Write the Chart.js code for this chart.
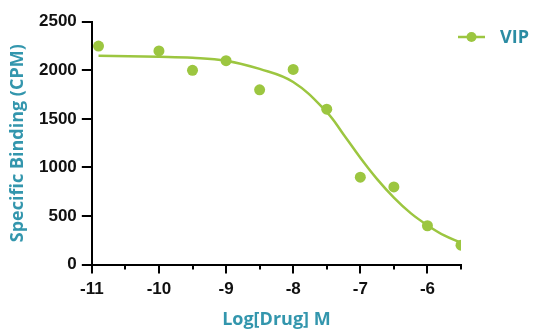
<!DOCTYPE html>
<html>
<head>
<meta charset="utf-8">
<script src="https://cdn.jsdelivr.net/npm/chart.js@4/dist/chart.umd.min.js"></script>
<style>
html,body{margin:0;padding:0;background:#fff;}
#wrap{width:533px;height:331px;position:relative;}
</style>
</head>
<body>
<div id="wrap"><canvas id="c" width="533" height="331"></canvas></div>
<script>
// Measured points
const seriesLabel = 'VIP';
const logDose = [-10.9, -10, -9.5, -9, -8.5, -8, -7.5, -7, -6.5, -6, -5.5];
const binding = [2250, 2200, 2000, 2100, 1800, 2010, 1600, 900, 800, 400, 200];
// Fitted curve
const curveX = [-10.9, -10, -9.5, -9, -8.5, -8, -7.5, -7.25, -7, -6.75, -6.5, -6.25, -6, -5.75, -5.5];
const curveY = [2150, 2140, 2130, 2100, 2015, 1880, 1570, 1340, 1100, 880, 690, 530, 405, 300, 225];
// Axis ticks
const xMajorTicks = [-11, -10, -9, -8, -7, -6];
const xMinorTicks = [-10.5, -9.5, -8.5, -7.5, -6.5, -5.5];
const yTicks = [0, 500, 1000, 1500, 2000, 2500];

const GREEN = '#9cc640';
const TEAL = '#3396ad';
const TEAL_DARK = '#2b8ca3';

const tickPlugin = {
  id: 'axisTicks',
  afterDraw(chart) {
    const ctx = chart.ctx;
    const xs = chart.scales.x;
    const ys = chart.scales.y;
    ctx.save();
    ctx.strokeStyle = '#000';
    ctx.lineWidth = 2;
    ctx.lineCap = 'butt';
    xMajorTicks.forEach(v => {
      const px = Math.round(xs.getPixelForValue(v));
      ctx.beginPath(); ctx.moveTo(px, xs.top); ctx.lineTo(px, xs.top + 9); ctx.stroke();
    });
    xMinorTicks.forEach(v => {
      const px = Math.round(xs.getPixelForValue(v));
      ctx.beginPath(); ctx.moveTo(px, xs.top); ctx.lineTo(px, xs.top + 5); ctx.stroke();
    });
    yTicks.forEach(v => {
      const py = Math.round(ys.getPixelForValue(v));
      ctx.beginPath(); ctx.moveTo(ys.right, py); ctx.lineTo(ys.right - 10, py); ctx.stroke();
    });
    ctx.restore();
  }
};

const legendPlugin = {
  id: 'customLegend',
  afterDraw(chart) {
    const ctx = chart.ctx;
    const ds = chart.data.datasets[0];
    ctx.save();
    ctx.strokeStyle = GREEN;
    ctx.lineWidth = 2.5;
    ctx.beginPath();
    ctx.moveTo(458, 37);
    ctx.lineTo(485, 37);
    ctx.stroke();
    ctx.fillStyle = GREEN;
    ctx.beginPath();
    ctx.arc(471.5, 37, 5, 0, Math.PI * 2);
    ctx.fill();
    ctx.fillStyle = TEAL_DARK;
    ctx.font = 'bold 18px "Open Sans"';
    ctx.textBaseline = 'middle';
    ctx.fillText(ds.label, 500, 38);
    ctx.restore();
  }
};

new Chart(document.getElementById('c'), {
  type: 'scatter',
  data: {
    datasets: [
      {
        label: seriesLabel,
        data: logDose.map((x, i) => ({x: x, y: binding[i]})),
        showLine: false,
        pointRadius: 5.5,
        pointHoverRadius: 5.5,
        backgroundColor: GREEN,
        borderColor: GREEN,
        borderWidth: 0
      },
      {
        label: 'fit',
        data: curveX.map((x, i) => ({x: x, y: curveY[i]})),
        showLine: true,
        pointRadius: 0,
        borderColor: GREEN,
        borderWidth: 2.5,
        tension: 0.4,
        fill: false
      }
    ]
  },
  options: {
    responsive: false,
    animation: false,
    layout: {padding: {left: 9, right: 72, top: 18, bottom: 2}},
    plugins: {legend: {display: false}, tooltip: {enabled: false}},
    scales: {
      x: {
        type: 'linear',
        min: -11,
        max: -5.5,
        afterBuildTicks: s => { s.ticks = xMajorTicks.map(v => ({value: v})); },
        border: {color: '#000', width: 2},
        grid: {display: false, drawTicks: false},
        ticks: {color: '#111', font: {family: 'Liberation Sans', weight: 'bold', size: 17}, padding: 15, maxRotation: 0, autoSkip: false, callback: v => String(v)},
        title: {display: true, text: 'Log[Drug] M', color: TEAL, font: {family: 'Open Sans', weight: 'bold', size: 18, lineHeight: 1}, padding: {top: -4, bottom: 0}}
      },
      y: {
        min: 0,
        max: 2500,
        afterBuildTicks: s => { s.ticks = yTicks.map(v => ({value: v})); },
        border: {color: '#000', width: 2},
        grid: {display: false, drawTicks: false},
        ticks: {color: '#111', font: {family: 'Liberation Sans', weight: 'bold', size: 17, lineHeight: 0.8}, padding: 15, callback: v => String(v)},
        title: {display: true, text: 'Specific Binding (CPM)', color: TEAL, font: {family: 'Open Sans', weight: 'bold', size: 18, lineHeight: 1}, padding: {top: 0, bottom: -3}}
      }
    }
  },
  plugins: [tickPlugin, legendPlugin]
});
</script>
</body>
</html>
